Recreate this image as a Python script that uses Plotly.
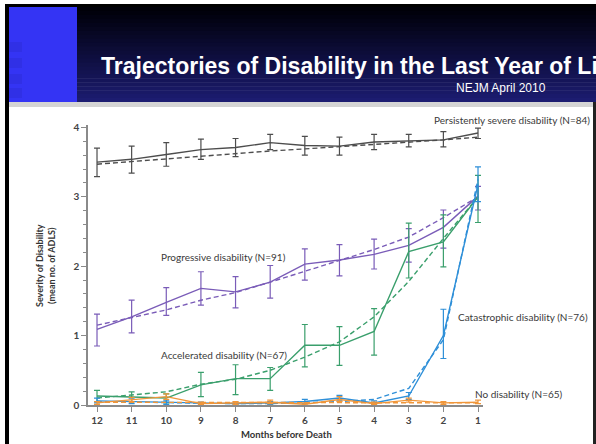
import plotly.graph_objects as go

# ---------------- data ----------------
months = [12, 11, 10, 9, 8, 7, 6, 5, 4, 3, 2, 1]

severe = [3.50, 3.54, 3.61, 3.68, 3.71, 3.78, 3.74, 3.73, 3.79, 3.80, 3.82, 3.92]
severe_hi = [3.70, 3.73, 3.78, 3.83, 3.84, 3.90, 3.87, 3.86, 3.90, 3.90, 3.94, 3.99]
severe_lo = [3.29, 3.34, 3.44, 3.54, 3.58, 3.68, 3.60, 3.60, 3.68, 3.72, 3.72, 3.84]
severe_fit = [3.47, 3.51, 3.55, 3.59, 3.63, 3.66, 3.69, 3.72, 3.75, 3.78, 3.82, 3.86]

progressive = [1.09, 1.27, 1.48, 1.68, 1.63, 1.77, 2.03, 2.09, 2.17, 2.30, 2.56, 3.01]
progressive_hi = [1.31, 1.51, 1.69, 1.92, 1.85, 2.01, 2.25, 2.31, 2.39, 2.54, 2.81, 3.15]
progressive_lo = [0.85, 1.04, 1.29, 1.44, 1.40, 1.54, 1.80, 1.86, 1.96, 2.06, 2.26, 2.81]
progressive_fit = [1.15, 1.26, 1.37, 1.51, 1.62, 1.77, 1.93, 2.08, 2.24, 2.42, 2.70, 3.00]

accelerated = [0.13, 0.12, 0.10, 0.29, 0.38, 0.38, 0.86, 0.86, 1.06, 2.21, 2.35, 3.00]
accelerated_hi = [0.21, 0.19, 0.16, 0.47, 0.58, 0.54, 1.16, 1.13, 1.39, 2.62, 2.74, 3.31]
accelerated_lo = [0.05, 0.05, 0.03, 0.12, 0.15, 0.21, 0.55, 0.57, 0.72, 1.83, 1.99, 2.63]
accelerated_fit = [0.10, 0.14, 0.19, 0.30, 0.37, 0.50, 0.69, 0.91, 1.27, 1.78, 2.40, 3.00]

catastrophic = [0.06, 0.05, 0.03, 0.02, 0.02, 0.03, 0.05, 0.10, 0.03, 0.13, 1.00, 3.18]
catastrophic_hi = [0.10, 0.09, 0.06, 0.04, 0.04, 0.05, 0.08, 0.14, 0.06, 0.18, 1.38, 3.43]
catastrophic_lo = [0.03, 0.02, 0.01, 0.01, 0.01, 0.01, 0.02, 0.06, 0.01, 0.08, 0.67, 2.93]
catastrophic_fit = [0.05, 0.04, 0.03, 0.02, 0.02, 0.02, 0.03, 0.05, 0.08, 0.24, 0.94, 3.25]

nodis = [0.03, 0.08, 0.12, 0.02, 0.03, 0.04, 0.01, 0.08, 0.02, 0.07, 0.03, 0.04]
nodis_hi = [0.05, 0.11, 0.16, 0.04, 0.05, 0.07, 0.03, 0.12, 0.04, 0.10, 0.05, 0.07]
nodis_lo = [0.01, 0.05, 0.08, 0.01, 0.01, 0.02, 0.00, 0.05, 0.01, 0.04, 0.01, 0.02]
nodis_fit = [0.04, 0.04, 0.04, 0.03, 0.03, 0.03, 0.03, 0.03, 0.03, 0.03, 0.03, 0.03]

y_ticks = [0, 1, 2, 3, 4]
series_labels = [
    "Persistently severe disability (N=84)",
    "Progressive disability (N=91)",
    "Accelerated disability (N=67)",
    "Catastrophic disability (N=76)",
    "No disability (N=65)",
]
title_text = "Trajectories of Disability in the Last Year of Life"
subtitle_text = "NEJM April 2010"

# ---------------- styling ----------------
W, H = 596, 444
ML, MR, MT, MB = 88, 113, 125, 39
PW, PH = W - ML - MR, H - MT - MB

def px(x):
    return (x - ML) / PW

def py(y):
    return (H - MB - y) / PH

# label anchor positions in page pixels (left edge, vertical centre)
label_pos = [(432, 120), (159, 257), (159, 355), (456, 317), (473, 394)]

series = [
    (severe, severe_hi, severe_lo, severe_fit, "#4d4d4d"),
    (progressive, progressive_hi, progressive_lo, progressive_fit, "#7a5cb8"),
    (accelerated, accelerated_hi, accelerated_lo, accelerated_fit, "#3a9f6c"),
    (catastrophic, catastrophic_hi, catastrophic_lo, catastrophic_fit, "#2e8fd8"),
    (nodis, nodis_hi, nodis_lo, nodis_fit, "#f0963a"),
]

fig = go.Figure()
for vals, hi, lo, fit, col in series:
    fig.add_trace(go.Scatter(
        x=months, y=fit, mode="lines",
        line=dict(color=col, width=1.4, dash="5px,3px"),
        cliponaxis=False, showlegend=False, hoverinfo="skip"))
    fig.add_trace(go.Scatter(
        x=months, y=vals, mode="lines",
        line=dict(color=col, width=1.4),
        error_y=dict(type="data", symmetric=False,
                     array=[h - v for h, v in zip(hi, vals)],
                     arrayminus=[v - l for v, l in zip(vals, lo)],
                     color=col, thickness=1.2, width=3),
        cliponaxis=False, showlegend=False))

shapes = []
# header gradient bands
top, bot = 7, 102
n = 24
c0 = (0, 0, 8)
c1 = (28, 28, 112)
for i in range(n):
    t = i / (n - 1)
    y0 = top + (bot - top) * i / n
    y1 = top + (bot - top) * (i + 1) / n + 0.6
    c = tuple(int(c0[k] + (c1[k] - c0[k]) * t) for k in range(3))
    shapes.append(dict(type="rect", xref="paper", yref="paper", layer="below",
                       x0=px(9), x1=px(W), y0=py(y1), y1=py(y0),
                       fillcolor="rgb(%d,%d,%d)" % c, line=dict(width=0)))
# light gray separator
shapes.append(dict(type="rect", xref="paper", yref="paper", layer="below",
                   x0=px(9), x1=px(W), y0=py(107), y1=py(102),
                   fillcolor="#d4d4d4", line=dict(width=0)))
# blue block
shapes.append(dict(type="rect", xref="paper", yref="paper", layer="below",
                   x0=px(9), x1=px(77), y0=py(102), y1=py(7),
                   fillcolor="#3434f4", line=dict(width=0)))
for yy in (42, 58, 74, 88):
    shapes.append(dict(type="rect", xref="paper", yref="paper", layer="below",
                       x0=px(9), x1=px(22), y0=py(yy + 10), y1=py(yy),
                       fillcolor="#3030e6", line=dict(width=0)))
# black frame lines
shapes.append(dict(type="rect", xref="paper", yref="paper", layer="below",
                   x0=px(5), x1=px(9), y0=py(H), y1=py(4),
                   fillcolor="#000000", line=dict(width=0)))
shapes.append(dict(type="rect", xref="paper", yref="paper", layer="below",
                   x0=px(5), x1=px(W), y0=py(7), y1=py(4),
                   fillcolor="#000000", line=dict(width=0)))
shapes.append(dict(type="rect", xref="paper", yref="paper", layer="below",
                   x0=px(593), x1=px(W), y0=py(H), y1=py(102),
                   fillcolor="#222222", line=dict(width=0)))

annotations = [
    dict(text=title_text, xref="paper", yref="paper", x=px(99), y=py(66),
         xanchor="left", yanchor="middle", showarrow=False,
         font=dict(family="Liberation Sans, Arial", size=23, color="white", weight="bold")),
    dict(text=subtitle_text, xref="paper", yref="paper", x=px(454), y=py(88),
         xanchor="left", yanchor="middle", showarrow=False,
         font=dict(family="Liberation Sans, Arial", size=12, color="white")),
    dict(text="Severity of Disability<br>(mean no. of ADLS)", xref="paper", yref="paper",
         x=px(45), y=py(266), textangle=-90, showarrow=False,
         xanchor="center", yanchor="middle",
         font=dict(family="Lato", size=9, color="#333333", weight="bold")),
    dict(text="Months before Death", xref="paper", yref="paper",
         x=px(286), y=py(434), showarrow=False, xanchor="center", yanchor="middle",
         font=dict(family="Lato", size=9.5, color="#333333", weight="bold")),
]
for txt, (lx, ly) in zip(series_labels, label_pos):
    annotations.append(dict(text=txt, x=px(lx), y=py(ly), xref="paper", yref="paper",
                            xanchor="left", yanchor="middle", showarrow=False,
                            font=dict(family="Lato", size=10, color="#3a3a3a")))

fig.update_layout(
    width=W, height=H,
    margin=dict(l=ML, r=MR, t=MT, b=MB, pad=0),
    paper_bgcolor="white", plot_bgcolor="white",
    shapes=shapes, annotations=annotations,
    showlegend=False,
    xaxis=dict(range=[12.26, 0.856], tickvals=months, ticktext=[str(m) for m in months],
               showline=True, linecolor="#8a8a8a", linewidth=1.5, showgrid=False,
               zeroline=False, ticks="outside", ticklen=5, tickcolor="#8a8a8a",
               tickfont=dict(family="Lato", size=10, color="#444444", weight="bold")),
    yaxis=dict(range=[0, PH / 69.4], tickvals=y_ticks,
               showline=True, linecolor="#8a8a8a", linewidth=1.5, showgrid=False,
               zeroline=False, ticks="outside", ticklen=5, tickcolor="#8a8a8a",
               minor=dict(dtick=0.2, ticks="outside", ticklen=3, tickcolor="#8a8a8a"),
               tickfont=dict(family="Lato", size=10, color="#444444", weight="bold")),
)

fig.write_html("out.html", config={"displayModeBar": False},
               post_script="document.body.style.margin='0';")
